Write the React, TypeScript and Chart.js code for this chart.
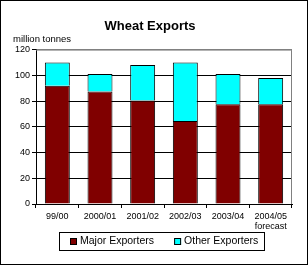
import React, { useEffect, useRef } from "react";
import { Chart, registerables } from "chart.js";

Chart.register(...registerables);

const categories: (string | string[])[] = ["99/00", "2000/01", "2001/02", "2002/03", "2003/04", ["2004/05", "forecast"]];
const majorExporters = [92, 87.5, 80.5, 64.5, 77.5, 77.5];
const otherExporters = [18, 13.5, 27.5, 45.5, 23.5, 20.5];
const yTicks = [0, 20, 40, 60, 80, 100, 120];
const seriesNames = ["Major Exporters", "Other Exporters"];
const seriesColors = ["#800000", "#00FFFF"];
const title = "Wheat Exports";
const yUnit = "million tonnes";

const FONT = "'Liberation Sans', Arial, sans-serif";

const framePlugin = {
  id: "frame",
  beforeDatasetsDraw(chart: any) {
    const { ctx, chartArea } = chart;
    ctx.save();
    ctx.strokeStyle = "#808080";
    ctx.lineWidth = 1;
    ctx.beginPath();
    ctx.moveTo(chartArea.left, chartArea.top + 0.5);
    ctx.lineTo(chartArea.right - 0.5, chartArea.top + 0.5);
    ctx.lineTo(chartArea.right - 0.5, chartArea.bottom);
    ctx.stroke();
    ctx.restore();
  },
  afterDraw(chart: any) {
    const { ctx, chartArea, width, height } = chart;
    ctx.save();
    // unit label
    ctx.fillStyle = "#000";
    ctx.font = `9.5px ${FONT}`;
    ctx.textBaseline = "middle";
    ctx.textAlign = "left";
    ctx.fillText(yUnit, 13, chartArea.top - 10);

    // legend
    ctx.font = `10.5px ${FONT}`;
    const box = 7, gapText = 3, gapItems = 20, padL = 11, padR = 6;
    const items = chart.data.datasets.map((ds: any) => ({
      text: ds.label,
      color: ds.backgroundColor,
      w: ctx.measureText(ds.label).width,
    }));
    let total = padL + padR;
    items.forEach((it: any, i: number) => {
      total += box + gapText + it.w + (i > 0 ? gapItems : 0);
    });
    const cx = (chartArea.left + chartArea.right) / 2 - 2;
    const left = Math.round(cx - total / 2);
    const cy = chartArea.bottom + 37;
    ctx.strokeStyle = "#000";
    ctx.lineWidth = 1;
    ctx.strokeRect(left + 0.5, Math.round(cy - 9) + 0.5, Math.round(total), 18);
    let x = left + padL;
    items.forEach((it: any) => {
      ctx.fillStyle = it.color;
      ctx.fillRect(x, Math.round(cy - box / 2), box, box);
      ctx.strokeStyle = "#000";
      ctx.strokeRect(x + 0.5, Math.round(cy - box / 2) + 0.5, box - 1, box - 1);
      ctx.fillStyle = "#000";
      ctx.fillText(it.text, x + box + gapText, cy + 0.5);
      x += box + gapText + it.w + gapItems;
    });

    // outer border
    ctx.strokeStyle = "#000";
    ctx.strokeRect(0.5, 0.5, width - 1, height - 1);
    ctx.restore();
  },
};

export default function App() {
  const ref = useRef<HTMLCanvasElement | null>(null);
  useEffect(() => {
    if (!ref.current) return;
    const chart = new Chart(ref.current, {
      type: "bar",
      data: {
        labels: categories as any,
        datasets: [
          {
            label: seriesNames[0],
            data: majorExporters,
            backgroundColor: seriesColors[0],
            borderColor: "#000000",
            borderWidth: 1,
            barPercentage: 0.585,
            categoryPercentage: 1,
          },
          {
            label: seriesNames[1],
            data: otherExporters,
            backgroundColor: seriesColors[1],
            borderColor: "#000000",
            borderWidth: 1,
            barPercentage: 0.585,
            categoryPercentage: 1,
          },
        ],
      },
      options: {
        animation: false,
        responsive: false,
        maintainAspectRatio: false,
        layout: { padding: { left: 8, right: 16, top: 0, bottom: 35 } },
        plugins: {
          tooltip: { enabled: false },
          legend: { display: false },
          title: {
            display: true,
            text: title,
            color: "#000",
            font: { family: FONT, size: 13, weight: "bold" },
            padding: { top: 19, bottom: 15 },
          },
        },
        scales: {
          x: {
            stacked: true,
            border: { display: true, color: "#000", width: 1 },
            grid: {
              display: true,
              drawOnChartArea: false,
              drawTicks: true,
              tickLength: 4,
              tickColor: "#000",
              offset: true,
            },
            ticks: {
              color: "#000",
              font: { family: FONT, size: 9, lineHeight: 1.15 },
              padding: 3,
              maxRotation: 0,
              autoSkip: false,
            },
            afterFit: (s: any) => {
              s.height = 26;
            },
          },
          y: {
            stacked: true,
            min: 0,
            max: 120,
            afterBuildTicks: (s: any) => {
              s.ticks = yTicks.map((v) => ({ value: v }));
            },
            border: { display: true, color: "#000", width: 1 },
            grid: {
              color: (c: any) => (c.tick && c.tick.value === 120 ? "#808080" : "#000"),
              tickColor: "#000",
              tickLength: 4,
            },
            ticks: {
              color: "#000",
              font: { family: FONT, size: 9 },
              padding: 2,
            },
            afterFit: (s: any) => {
              s.width = 28;
            },
          },
        },
      },
      plugins: [framePlugin],
    });
    return () => chart.destroy();
  }, []);
  return (
    <div style={{ position: "fixed", left: 0, top: 0, width: 308, height: 265, background: "#fff" }}>
      <canvas ref={ref} width={308} height={265} style={{ display: "block" }} />
    </div>
  );
}
